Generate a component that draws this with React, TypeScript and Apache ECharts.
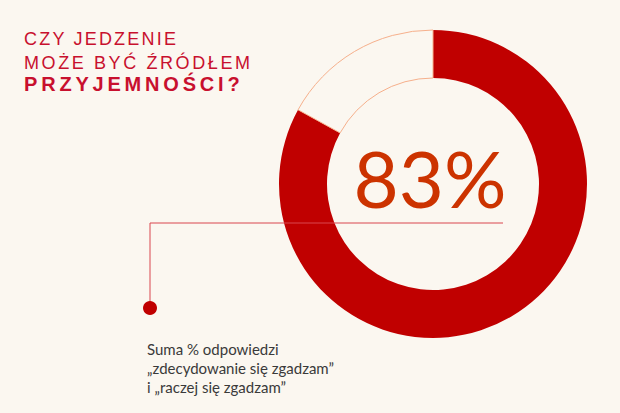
import React, { useEffect, useRef } from "react";
import * as echarts from "echarts";

const categories = ["zgadzam się", "pozostali"];
const values = [83, 17];
const titleLines = ["CZY JEDZENIE", "MOŻE BYĆ ŹRÓDŁEM", "PRZYJEMNOŚCI?"];
const bigLabel = "83%";
const noteLines = ["Suma % odpowiedzi", "„zdecydowanie się zgadzam”", "i „raczej się zgadzam”"];

const BG = "#fbf7f0";
const RED = "#c00000";

const titleTops = [29.5, 53.5, 73.5];
const titleSizes = [18, 18, 20];
const titleSpacing = [2.2, 2.6, 3.8];

export default function App() {
  const ref = useRef<HTMLDivElement>(null);
  useEffect(() => {
    if (!ref.current) return;
    const chart = echarts.init(ref.current, undefined, { renderer: "svg" });
    chart.setOption({
      animation: false,
      backgroundColor: BG,
      series: [
        {
          type: "pie",
          center: [433, 184],
          radius: [106, 154],
          startAngle: 90,
          clockwise: true,
          silent: true,
          label: { show: false },
          labelLine: { show: false },
          data: categories.map((c, i) => ({
            name: c,
            value: values[i],
            itemStyle:
              i === 0
                ? { color: RED, borderWidth: 0 }
                : { color: BG, borderColor: "#f6b08c", borderWidth: 1 },
          })),
          z: 1,
        },
      ],
      graphic: [
        ...titleLines.map((t, i) => ({
          type: "text",
          left: 24,
          top: titleTops[i],
          z: 10,
          style: {
            text: t,
            fill: "#c8102e",
            font: `${i === 2 ? "bold" : "normal"} ${titleSizes[i]}px "Liberation Sans", Arial, sans-serif`,
          } as any,
        })),
        {
          type: "text",
          x: 430,
          y: 178,
          z: 10,
          style: {
            text: bigLabel,
            fill: "#cc3300",
            font: 'normal 78px Lato, sans-serif',
            textAlign: "center",
            textVerticalAlign: "middle",
          } as any,
        },
        {
          type: "polyline",
          z: 10,
          shape: { points: [[503, 223], [150, 223], [150, 305]] },
          style: { stroke: "#d9464f", lineWidth: 1, fill: "none" },
        },
        {
          type: "circle",
          z: 10,
          shape: { cx: 150, cy: 308, r: 7 },
          style: { fill: RED },
        },
        ...noteLines.map((t, i) => ({
          type: "text",
          left: 147,
          top: 341 + i * 19,
          z: 10,
          style: {
            text: t,
            fill: "#3a3a3a",
            font: 'normal 15px Lato, sans-serif',
          } as any,
        })),
      ],
    });
    const applySpacing = () => {
      const el = ref.current;
      if (!el) return;
      el.querySelectorAll("text").forEach((node) => {
        const idx = titleLines.indexOf((node.textContent || "").trim());
        if (idx >= 0) node.setAttribute("letter-spacing", String(titleSpacing[idx]));
      });
    };
    applySpacing();
    chart.on("finished", applySpacing);
    return () => chart.dispose();
  }, []);
  return (
    <div
      ref={ref}
      style={{ position: "fixed", left: 0, top: 0, width: 620, height: 413 }}
    />
  );
}
